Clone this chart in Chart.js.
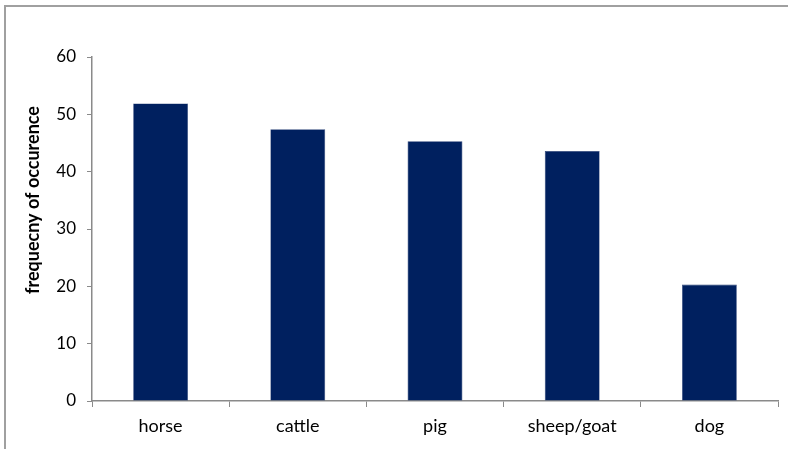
<!DOCTYPE html>
<html lang="en">
<head>
  <meta charset="UTF-8">
  <title>frequecny of occurence</title>
  <style>
    html, body { margin: 0; padding: 0; background: #fff; overflow: hidden; }
    .wrap { position: relative; width: 788px; height: 449px; }
    .frame {
      position: absolute; left: 4px; top: 5px; width: 900px; height: 600px;
      border: 2px solid #a0a0a0; pointer-events: none;
    }
    canvas { position: absolute; left: 0; top: 0; }
  </style>
</head>
<body>
  <div class="wrap">
    <canvas id="chart" width="788" height="449"></canvas>
    <div class="frame"></div>
  </div>
  <script src="https://cdn.jsdelivr.net/npm/chart.js"></script>
  <script>
    const animals = ['horse', 'cattle', 'pig', 'sheep/goat', 'dog'];
    const occurrences = [51.9, 47.4, 45.3, 43.6, 20.3];
    const yTicks = [0, 10, 20, 30, 40, 50, 60];
    const yTitle = 'frequecny of occurence';

    const axisGray = '#8a8a8a';
    const fontFamily = "Lato, 'Open Sans', sans-serif";

    // y title sits a bit above the middle of the plot, so draw it by hand
    const yTitlePlugin = {
      id: 'yTitle',
      afterDraw(chart) {
        const ctx = chart.ctx;
        ctx.save();
        ctx.translate(33, 200);
        ctx.rotate(-Math.PI / 2);
        ctx.font = `bold 18px ${fontFamily}`;
        ctx.fillStyle = '#000';
        ctx.textAlign = 'center';
        ctx.textBaseline = 'middle';
        ctx.fillText(yTitle, 0, 0);
        ctx.restore();
      }
    };

    new Chart(document.getElementById('chart'), {
      type: 'bar',
      data: {
        labels: animals,
        datasets: [{
          data: occurrences,
          backgroundColor: '#00205f',
          borderColor: '#2a4075',
          borderWidth: 0.6,
          barPercentage: 0.4,
          categoryPercentage: 1
        }]
      },
      options: {
        responsive: false,
        animation: false,
        layout: { padding: { top: 57, right: 10, left: 0, bottom: 0 } },
        plugins: { legend: { display: false }, tooltip: { enabled: false } },
        scales: {
          x: {
            grid: {
              display: true, drawOnChartArea: false, drawTicks: true,
              tickLength: 6, color: axisGray, offset: true
            },
            border: { display: true, color: axisGray, width: 1.5 },
            ticks: { color: '#000', padding: 8, font: { family: fontFamily, size: 18 } },
            afterFit: s => { s.height = 48; }
          },
          y: {
            min: 0, max: 60,
            afterBuildTicks: s => { s.ticks = yTicks.map(v => ({ value: v })); },
            grid: {
              display: true, drawOnChartArea: false, drawTicks: true,
              tickLength: 5, color: axisGray
            },
            border: { display: true, color: axisGray, width: 1.5 },
            ticks: { color: '#000', padding: 11, font: { family: fontFamily, size: 17 } },
            afterFit: s => { s.width = 92; }
          }
        }
      },
      plugins: [yTitlePlugin]
    });
  </script>
</body>
</html>
